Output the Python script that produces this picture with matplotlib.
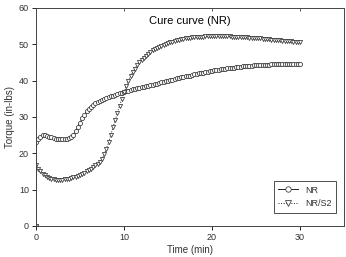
import numpy as np
import matplotlib
matplotlib.use("Agg")
import matplotlib.pyplot as plt

plt.rcParams["font.family"] = ["Liberation Sans", "DejaVu Sans"]

# time (min)
time = [0, 0.05, 0.25, 0.5, 0.75, 1.0, 1.25, 1.5, 1.75, 2.0, 2.25, 2.5, 2.75, 3.0,
        3.25, 3.5, 3.75, 4.0, 4.25, 4.5, 4.75, 5.0, 5.25, 5.5, 5.75, 6.0, 6.25, 6.5,
        6.75, 7.0, 7.25, 7.5, 7.75, 8.0, 8.25, 8.5, 8.75, 9.0, 9.25, 9.5, 9.75, 10.0,
        10.25, 10.5, 10.75, 11.0, 11.25, 11.5, 11.75, 12.0, 12.25, 12.5, 12.75, 13.0,
        13.25, 13.5, 13.75, 14.0, 14.25, 14.5, 14.75, 15.0, 15.25, 15.5, 15.75, 16.0,
        16.25, 16.5, 16.75, 17.0, 17.25, 17.5, 17.75, 18.0, 18.25, 18.5, 18.75, 19.0,
        19.25, 19.5, 19.75, 20.0, 20.25, 20.5, 20.75, 21.0, 21.25, 21.5, 21.75, 22.0,
        22.25, 22.5, 22.75, 23.0, 23.25, 23.5, 23.75, 24.0, 24.25, 24.5, 24.75, 25.0,
        25.25, 25.5, 25.75, 26.0, 26.25, 26.5, 26.75, 27.0, 27.25, 27.5, 27.75, 28.0,
        28.25, 28.5, 28.75, 29.0, 29.25, 29.5, 29.75, 30.0]

nr = [0, 23.2, 24.0, 24.6, 24.9, 24.9, 24.8, 24.6, 24.4, 24.2, 24.0, 23.9, 23.8, 23.8,
      23.8, 23.9, 24.1, 24.5, 25.1, 26.0, 27.2, 28.4, 29.6, 30.6, 31.5, 32.2, 32.8, 33.3,
      33.7, 34.1, 34.4, 34.7, 35.0, 35.3, 35.5, 35.7, 35.9, 36.1, 36.3, 36.5, 36.7, 36.9,
      37.1, 37.2, 37.4, 37.6, 37.7, 37.9, 38.0, 38.2, 38.3, 38.5, 38.6, 38.8,
      38.9, 39.1, 39.2, 39.4, 39.5, 39.7, 39.8, 40.0, 40.1, 40.3, 40.4, 40.6,
      40.7, 40.9, 41.0, 41.2, 41.3, 41.4, 41.6, 41.7, 41.8, 42.0, 42.1, 42.2,
      42.3, 42.5, 42.6, 42.7, 42.8, 42.9, 43.0, 43.1, 43.2, 43.3, 43.4, 43.5,
      43.5, 43.6, 43.7, 43.8, 43.8, 43.9, 44.0, 44.0, 44.1, 44.1, 44.2, 44.2,
      44.3, 44.3, 44.3, 44.4, 44.4, 44.4, 44.5, 44.5, 44.5, 44.5, 44.5, 44.6,
      44.6, 44.6, 44.6, 44.6, 44.6, 44.6, 44.6, 44.6]

nr_s2 = [0, 16.8, 15.8, 15.0, 14.4, 13.9, 13.5, 13.2, 13.0, 12.8, 12.7, 12.7, 12.7, 12.7,
         12.8, 12.9, 13.0, 13.2, 13.4, 13.6, 13.8, 14.1, 14.4, 14.7, 15.0, 15.3, 15.7, 16.2,
         16.8, 17.0, 17.6, 18.5, 19.7, 21.2, 23.0, 25.0, 27.1, 29.1, 31.1, 33.1, 35.0, 36.8,
         38.4, 39.9, 41.2, 42.3, 43.3, 44.2, 45.0, 45.7, 46.3, 46.9, 47.4, 47.9,
         48.3, 48.7, 49.0, 49.3, 49.6, 49.9, 50.1, 50.3, 50.5, 50.7, 50.9, 51.1,
         51.2, 51.4, 51.5, 51.6, 51.7, 51.8, 51.9, 52.0, 52.0, 52.1, 52.1, 52.1,
         52.2, 52.2, 52.2, 52.2, 52.2, 52.2, 52.2, 52.2, 52.2, 52.2, 52.2, 52.2,
         52.1, 52.1, 52.1, 52.0, 52.0, 52.0, 51.9, 51.9, 51.8, 51.8, 51.7, 51.7,
         51.6, 51.6, 51.5, 51.5, 51.4, 51.4, 51.3, 51.3, 51.2, 51.2, 51.1, 51.0,
         51.0, 50.9, 50.9, 50.8, 50.7, 50.7, 50.6, 50.5]

fig = plt.figure(figsize=(3.46, 2.57), dpi=100)
ax = fig.add_axes([0.104, 0.121, 0.89, 0.848])

ax.plot(time, nr, "-", color="#222222", lw=0.7, marker="o", ms=3.0,
        mfc="white", mec="#333333", mew=0.55, label="NR")
ax.plot(time, nr_s2, ":", color="#222222", lw=0.7, marker="v", ms=3.0,
        mfc="white", mec="#333333", mew=0.55, label="NR/S2")

ax.set_xlim(0, 35)
ax.set_ylim(0, 60)
ax.set_xticks([0, 10, 20, 30])
ax.set_yticks([0, 10, 20, 30, 40, 50, 60])
ax.tick_params(labelsize=6.5, labelcolor="#333333", length=3, width=0.6, pad=2)
# small inward ticks along the top edge
top = ax.secondary_xaxis("top")
top.set_xticks([10, 20, 30])
top.tick_params(direction="in", length=2.5, width=0.6, color="#444444",
                labeltop=False)
top.spines["top"].set_visible(False)
for s in ax.spines.values():
    s.set_linewidth(0.7)
    s.set_color("#444444")

ax.text(0.5, 0.965, "Cure curve (NR)", transform=ax.transAxes, ha="center",
        va="top", fontsize=8)
ax.set_xlabel("Time (min)", fontsize=7, color="#333333", labelpad=2)
ax.set_ylabel("Torque (in-lbs)", fontsize=7, color="#333333", labelpad=3)

leg = ax.legend(loc="lower right", fontsize=6.5, frameon=True, fancybox=False,
                edgecolor="black", handlelength=2.2, borderpad=0.5,
                markerscale=1.3, bbox_to_anchor=(0.99, 0.04))
leg.get_frame().set_linewidth(0.6)
for t in leg.get_texts():
    t.set_color("#333333")

fig.savefig("out.png", dpi=100)
